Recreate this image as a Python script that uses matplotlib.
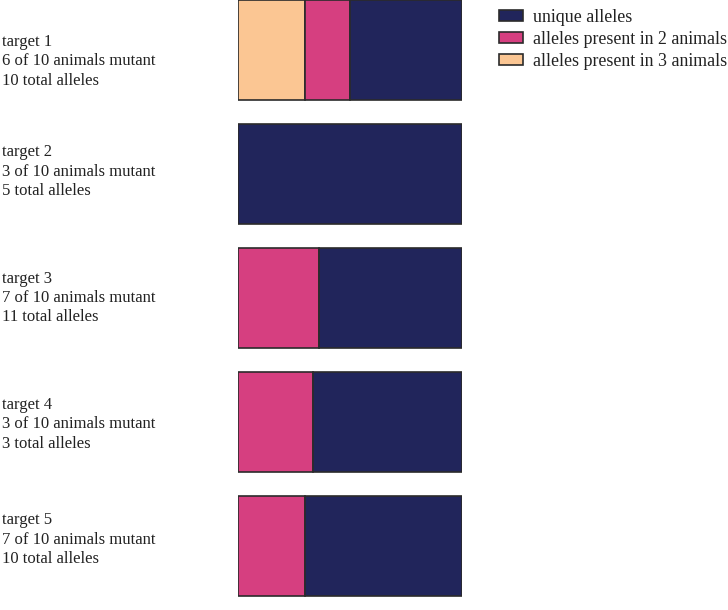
import numpy as np
import matplotlib.pyplot as plt

plt.rcParams['font.family'] = ['Liberation Serif', 'DejaVu Serif']

targets = ["target 1", "target 2", "target 3", "target 4", "target 5"]
mutant_animals = [6, 3, 7, 3, 7]
total_animals = [10, 10, 10, 10, 10]
total_alleles = [10, 5, 11, 3, 10]

# allele counts per class, per target
in_3_animals = np.array([3, 0, 0, 0, 0])
in_2_animals = np.array([2, 0, 4, 1, 3])
unique = np.array([5, 5, 7, 2, 7])

c_unique = "#21255b"
c_two = "#d63f80"
c_three = "#fbc693"

fig = plt.figure(figsize=(7.28, 6.10), dpi=100)
ax = fig.add_axes([238 / 728, 0, 224 / 728, 1])

tot = in_3_animals + in_2_animals + unique
f3 = in_3_animals / tot
f2 = in_2_animals / tot
fu = unique / tot
y = np.arange(len(targets))
h = 100 / 124

kw = dict(height=h, edgecolor="#2b2b2b", linewidth=1.2)
b3 = ax.barh(y, f3, color=c_three, label="alleles present in 3 animals", **kw)
b2 = ax.barh(y, f2, left=f3, color=c_two, label="alleles present in 2 animals", **kw)
bu = ax.barh(y, fu, left=f3 + f2, color=c_unique, label="unique alleles", **kw)

ax.set_xlim(0, 1)
ax.set_ylim((610 - 50) / 124, -50 / 124)
ax.axis("off")

# first label sits a little below its bar centre in the original
nudge = [0.09, -0.02, 0.0, 0.02, -0.05]
for i, name in enumerate(targets):
    txt = f"{name}\n{mutant_animals[i]} of {total_animals[i]} animals mutant\n{total_alleles[i]} total alleles"
    ax.text(-236 / 224, i + nudge[i], txt, ha="left", va="center",
            fontsize=12, linespacing=1.28, color="#222222")

fig.legend([bu, b2, b3],
           ["unique alleles", "alleles present in 2 animals", "alleles present in 3 animals"],
           loc="upper left", bbox_to_anchor=(499 / 728, 1 - 9 / 610), frameon=False,
           fontsize=12.9, handlelength=1.35, handleheight=0.6, handletextpad=0.55,
           labelspacing=0.28, borderpad=0, borderaxespad=0, labelcolor="#222222")

fig.savefig("out.png", dpi=100)
